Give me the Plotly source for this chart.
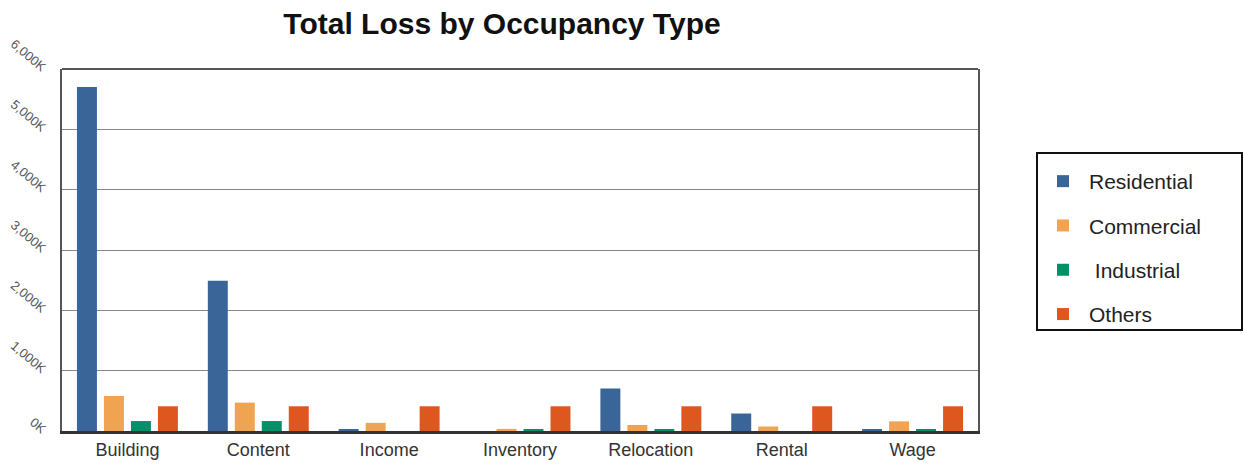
import plotly.graph_objects as go

categories = ["Building", "Content", "Income", "Inventory", "Relocation", "Rental", "Wage"]
series_names = ["Residential", "Commercial", " Industrial", "Others"]
residential = [5700, 2490, 25, 0, 705, 290, 30]
commercial = [580, 470, 135, 35, 100, 75, 160]
industrial = [165, 165, 0, 30, 30, 0, 30]
others = [410, 410, 410, 410, 410, 410, 410]
colors = ["#3A6599", "#F0A452", "#00916B", "#DE571F"]
y_ticks = [0, 1000, 2000, 3000, 4000, 5000, 6000]
y_tick_labels = ["0K", "1,000K", "2,000K", "3,000K", "4,000K", "5,000K", "6,000K"]

fig = go.Figure()
for i, (name, vals) in enumerate(zip(series_names, [residential, commercial, industrial, others])):
    fig.add_trace(go.Bar(
        x=categories, y=vals, name=name, legendgroup=f"g{i}",
        marker=dict(color=colors[i], line=dict(width=0)),
    ))

L, R, T, B = 62, 1244 - 978, 69, 466 - 431
PW, PH = 1244 - L - R, 466 - T - B
fig.update_layout(
    width=1244, height=466,
    margin=dict(l=L, r=R, t=T, b=B, autoexpand=False),
    paper_bgcolor="white", plot_bgcolor="white",
    barmode="group", bargap=0.175, bargroupgap=0.26,
    font=dict(family="Liberation Sans, Arial, sans-serif", color="#333"),
    title=dict(text="<b>Total Loss by Occupancy Type</b>", x=502 / 1244, xanchor="center",
               y=1 - 23 / 466, yanchor="middle", xref="container", yref="container",
               font=dict(size=30, color="#111")),
    legend=dict(x=(1037 - L) / PW, xanchor="left", y=(431 - 161) / PH, yanchor="top",
                borderwidth=0, bgcolor="rgba(0,0,0,0)",
                font=dict(size=21, color="#222"), tracegroupgap=14,
                traceorder="grouped", itemwidth=42),
    showlegend=True,
)
fig.update_xaxes(showline=True, linewidth=3, linecolor="#333", mirror=False, automargin=False,
                 ticks="", tickfont=dict(size=18, color="#333"), showgrid=False)
fig.update_yaxes(range=[0, 6000], tickvals=y_ticks, ticktext=y_tick_labels, automargin=False,
                 tickangle=40, tickfont=dict(size=13, color="#555"), ticklabelstandoff=12,
                 showline=True, linewidth=2, linecolor="#555", mirror=True,
                 showgrid=True, gridcolor="#888", gridwidth=1, zeroline=False, ticks="")
fig.add_shape(type="line", xref="paper", yref="paper", x0=0, x1=1, y0=1, y1=1,
              line=dict(color="#555", width=2))
# legend frame
fig.add_shape(type="rect", xref="paper", yref="paper",
              x0=(1037 - L) / PW, x1=(1242 - L) / PW,
              y0=(431 - 330) / PH, y1=(431 - 153) / PH,
              line=dict(color="#111", width=2), fillcolor="rgba(0,0,0,0)")
fig.write_html("out.html")
